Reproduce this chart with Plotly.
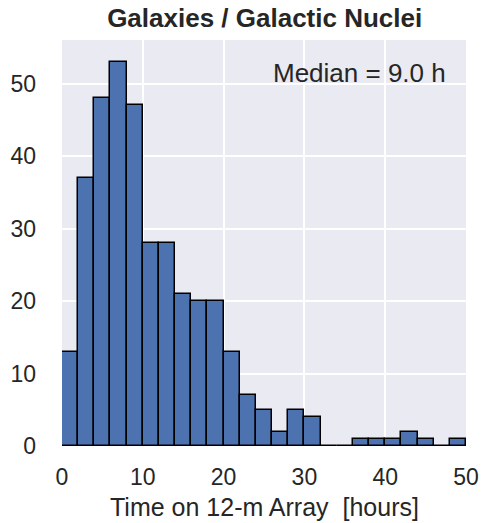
import plotly.graph_objects as go

bin_starts = [0, 2, 4, 6, 8, 10, 12, 14, 16, 18, 20, 22, 24, 26, 28, 30, 32, 34, 36, 38, 40, 42, 44, 46, 48]
counts = [13, 37, 48, 53, 47, 28, 28, 21, 20, 20, 13, 7, 5, 2, 5, 4, 0, 0, 1, 1, 1, 2, 1, 0, 1]
bin_width = 2
x_ticks = [0, 10, 20, 30, 40, 50]
y_ticks = [0, 10, 20, 30, 40, 50]
median_label = "Median = 9.0 h"
title = "Galaxies / Galactic Nuclei"
x_title = "Time on 12-m Array  [hours]"

centers = [s + bin_width / 2 for s in bin_starts]

fig = go.Figure(go.Bar(
    x=centers, y=counts, width=[bin_width] * len(counts),
    marker=dict(color="#4C72B0", line=dict(color="black", width=1.5)),
    hoverinfo="skip",
))

font_family = "Liberation Sans, Arial, sans-serif"
fig.update_layout(
    width=483, height=523,
    margin=dict(l=62, r=17, t=40, b=77),
    paper_bgcolor="white",
    plot_bgcolor="#EAEAF2",
    showlegend=False,
    bargap=0,
    hovermode=False,
    font=dict(family=font_family, size=23, color="#262626"),
    title=dict(text="<b>" + title + "</b>", x=0.548, xanchor="center", y=0.965, yanchor="middle",
               font=dict(size=26, color="#262626"), automargin=False),
    annotations=[dict(text=median_label, xref="paper", yref="paper", x=0.955, y=0.919,
                      xanchor="right", yanchor="middle", showarrow=False,
                      font=dict(size=26, color="#262626")),
                 dict(text=x_title, xref="paper", yref="paper", x=0.5, y=-0.150,
                      xanchor="center", yanchor="middle", showarrow=False,
                      font=dict(size=25, color="#262626"))],
)
fig.update_xaxes(range=[0, 50], tickvals=x_ticks, showgrid=True, gridcolor="white", gridwidth=1.5,
                 zeroline=False, showline=False, ticks="", ticklen=0, automargin=False,
                 ticklabelstandoff=15, tickfont=dict(size=23))
fig.update_yaxes(range=[0, 56], tickvals=y_ticks, showgrid=True, gridcolor="white", gridwidth=1.5,
                 zeroline=False, showline=False, ticks="", ticklen=0, automargin=False,
                 ticklabelstandoff=25, tickfont=dict(size=23))

fig.write_html("out.html", config={"displayModeBar": False},
               post_script="document.body.style.margin='0';document.body.style.overflow='hidden';")
